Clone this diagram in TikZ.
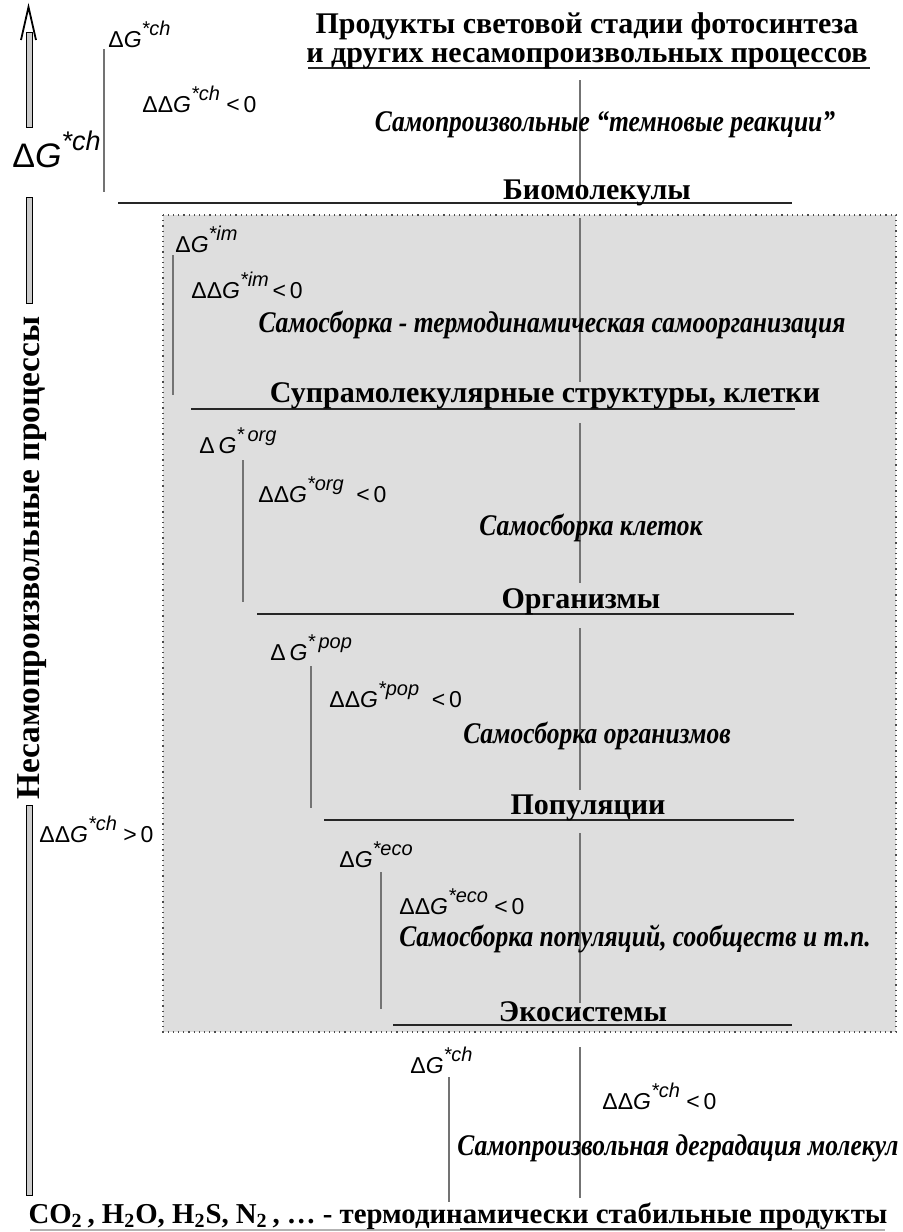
\documentclass[tikz,border=0pt]{standalone}
\usepackage{fontspec}
\setmainfont{Liberation Serif}
\setsansfont{Liberation Sans}
\newfontfamily\procfont[FakeStretch=0.85]{Liberation Serif}
\newcommand{\dGsup}[2][10]{\textit{G}\raisebox{.5em}{\fontsize{#1}{#1}\selectfont\itshape *#2}}
\begin{document}
\begin{tikzpicture}[x=0.5pt,y=-0.5pt,line cap=butt]
	\tikzset{
		stage/.style={font=\fontsize{15}{17}\selectfont\bfseries, inner sep=0pt, anchor=base},
		proc/.style={font=\procfont\fontsize{15}{17}\selectfont\bfseries\itshape, inner sep=0pt, anchor=base},
		dglab/.style={font=\fontsize{11.5}{13}\selectfont\sffamily, inner sep=0pt, anchor=base west},
		bar/.style={black!55, line width=0.6pt},
		lvl/.style={black!85, line width=0.8pt}
	}
	\useasboundingbox (0,0) rectangle (902,1232);
	% shaded area of self-assembly
	\draw[fill=black!13, draw=black!70, dotted, line width=0.6pt] (163,215) rectangle (896,1032);
	% arrow on the left
	\foreach \a/\b in {32/127, 197/303, 805/1195}{
		\draw[fill=black!20, line width=0.5pt] (26,\a) rectangle (32,\b);
	}
	\draw[line width=0.9pt, line join=miter] (21,40)--(28.5,7)--(36,40);
	% vertical bars
	\foreach \x/\a/\b in {104/49/192, 580/80/185, 173/255/395, 580/218/382, 243/460/602,
		580/423/583, 311/666/808, 580/628/790, 381/872/1009, 580/833/1003, 449/1077/1202,
		580/1047/1198}{
		\draw[bar] (\x,\a)--(\x,\b);
	}
	% levels
	\foreach \y/\a/\b in {68/308/870, 203/118/792, 409/191/795, 614/257/794, 820/324/794,
		1025/393/792}{
		\draw[lvl] (\a,\y)--(\b,\y);
	}
	\draw[black!30, line width=0.6pt] (30,1230)--(885,1230);
	\draw[lvl] (460,1229)--(792,1229);
	% stages
	\path
	(587,33) node[stage] (prod1) {Продукты световой стадии фотосинтеза}
	(587,62) node[stage] (prod2) {и других несамопроизвольных процессов}
	(597,199) node[stage] (biomol) {Биомолекулы}
	(545,402) node[stage] (supra) {Супрамолекулярные структуры, клетки}
	(581,608) node[stage] (organ) {Организмы}
	(588,814) node[stage] (popul) {Популяции}
	(583,1021) node[stage] (ecosys) {Экосистемы}
	(458,1223) node[stage, font=\fontsize{14.4}{16}\selectfont\bfseries] (stable) {CO\textsubscript{2}\,, H\textsubscript{2}O, H\textsubscript{2}S, N\textsubscript{2}\,, … - термодинамически стабильные продукты}
	(32,558) node[stage, rotate=90, anchor=center, font=\fontsize{16.7}{18}\selectfont\bfseries] (vert) {Несамопроизвольные процессы}
	;
	% processes
	\path
	(605,131) node[proc] (dark) {Самопроизвольные “темновые реакции”}
	(552,332) node[proc] (selfbuild) {Самосборка - термодинамическая самоорганизация}
	(591,535) node[proc] (cellbuild) {Самосборка клеток}
	(597,743) node[proc] (orgbuild) {Самосборка организмов}
	(635,946) node[proc] (popbuild) {Самосборка популяций, сообществ и т.п.}
	(678,1155) node[proc] (degrad) {Самопроизвольная деградация молекул}
	;
	% energies
	\path
	(108,47) node[dglab] (gch) {Δ\dGsup{ch}}
	(142,112) node[dglab] (ddgch) {ΔΔ\dGsup{ch}\ <\,0}
	(12,167) node[dglab, font=\fontsize{17}{19}\selectfont\sffamily] (gbig) {Δ\dGsup[13.5]{ch}}
	(175,252) node[dglab] (gim) {Δ\dGsup{im}}
	(191,298) node[dglab] (ddgim) {ΔΔ\dGsup{im}\,<\,0}
	(199,453) node[dglab] (gorg) {Δ\,\dGsup{\,org}}
	(258,502) node[dglab] (ddgorg) {ΔΔ\dGsup{org}\ \ <\,0}
	(270,660) node[dglab] (gpop) {Δ\,\dGsup{\,pop}}
	(329,707) node[dglab] (ddgpop) {ΔΔ\dGsup{pop}\ \ <\,0}
	(339,867) node[dglab] (geco) {Δ\dGsup{eco}}
	(399,914) node[dglab] (ddgeco) {ΔΔ\dGsup{eco}\ <\,0}
	(410,1073) node[dglab] (gch2) {Δ\dGsup{ch}}
	(602,1109) node[dglab] (ddgch2) {ΔΔ\dGsup{ch}\ <\,0}
	(39,842) node[dglab] (ddgpos) {ΔΔ\dGsup{ch}\ >\,0}
	;
\end{tikzpicture}
\end{document}
